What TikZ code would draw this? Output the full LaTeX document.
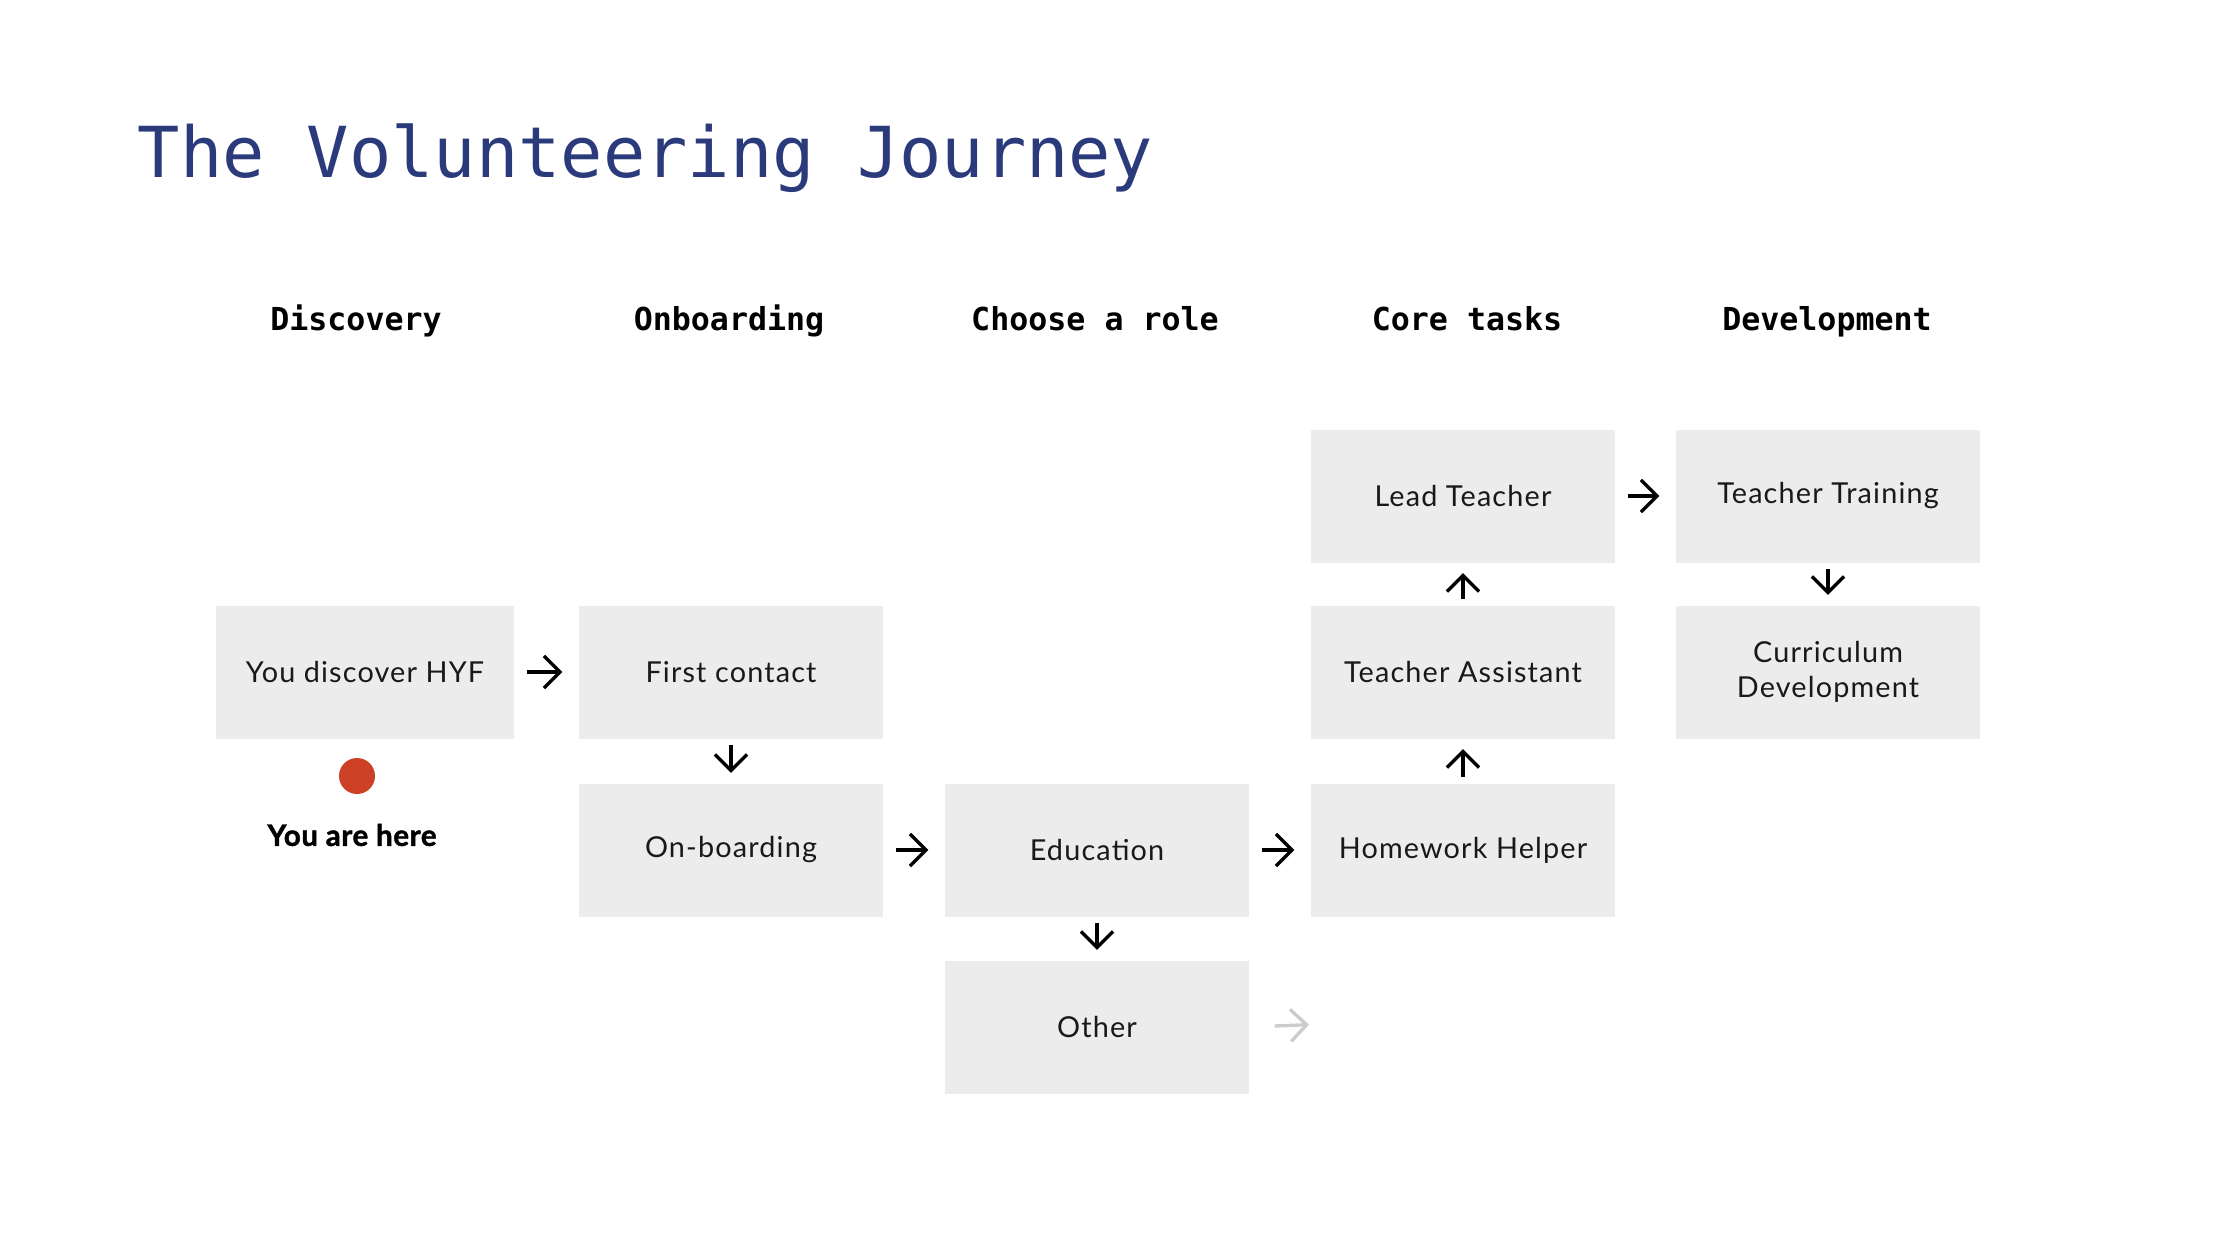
\documentclass[tikz,border=0pt]{standalone}
\usepackage{fontspec}
\setmainfont{Lato}[LetterSpace=4]
\newfontfamily\monofont{DejaVu Sans Mono}
\newfontfamily\herefont{Lato}[BoldFeatures={FakeBold=1.5}, LetterSpace=2]
\usepackage{xcolor}
\usetikzlibrary{positioning,arrows.meta,calc}
\definecolor{boxgray}{HTML}{ECECEC}
\definecolor{titleblue}{HTML}{2B3A7B}
\definecolor{hered}{HTML}{CC4125}
\definecolor{fadegray}{HTML}{CCCCCC}

\begin{document}
\begin{tikzpicture}[
    font=\fontsize{8.2}{9.8}\selectfont,
    stage/.style={fill=boxgray, minimum width=30.4mm, minimum height=13.3mm,
                  align=center, inner sep=0pt, text=black!90},
    head/.style={font=\monofont\bfseries\fontsize{9}{11}\selectfont, anchor=base},
    harr/.style={-{Straight Barb[length=1.6mm, width=3.2mm]}, line width=0.95pt,
                 shorten <=1.2mm, shorten >=1.6mm},
    varr/.style={harr, shorten <=0.6mm, shorten >=1mm},
]
\fill[white] (0,0) rectangle (22.4,-12.5);
\useasboundingbox (0,0) rectangle (22.4,-12.5);
% columns: 3.65, 7.31, 10.97, 14.63, 18.28; rows: -4.96, -6.72, -8.50, -10.27
% ---------------- title and column heads ----------------
\node[anchor=base west, inner sep=0pt, text=titleblue,
      font=\monofont\fontsize{20}{24}\selectfont] (title) at (1.37,-1.78) {The Volunteering Journey};
\node[head] (hdisc) at (3.56,-3.30) {Discovery};
\node[head] (honb) at (7.29,-3.30) {Onboarding};
\node[head] (hrole) at (10.95,-3.30) {Choose a role};
\node[head] (hcore) at (14.67,-3.30) {Core tasks};
\node[head] (hdev) at (18.27,-3.30) {Development};

% ---------------- stages ----------------
\node[stage, minimum width=29.8mm] (disc) at (3.65,-6.72) {You discover HYF};
\node[stage] (first) at (7.31,-6.72) {First contact};
\node[stage] (onb) at (7.31,-8.50) {On-boarding};
\node[stage] (edu) at (10.97,-8.50) {Education};
\node[stage] (other) at (10.97,-10.27) {Other};
\node[stage] (hw) at (14.63,-8.50) {Homework Helper};
\node[stage] (ta) at (14.63,-6.72) {Teacher Assistant};
\node[stage] (lead) at (14.63,-4.96) {Lead Teacher};
\node[stage] (tt) at (18.28,-4.96) {Teacher Training};
\node[stage] (cd) at (18.28,-6.72) {Curriculum\\Development};

% ---------------- you are here ----------------
\node[circle, fill=hered, minimum size=3.6mm, inner sep=0pt] (dot) at (3.57,-7.76) {};
\node[font=\herefont\bfseries\fontsize{8.4}{10}\selectfont] (here) at (3.52,-8.35) {You are here};

% ---------------- arrows ----------------
\draw[harr] (disc.east) -- (first.west);
\draw[varr] (first.south) -- (onb.north);
\draw[harr] (onb.east) -- (edu.west);
\draw[varr] (edu.south) -- (other.north);
\draw[harr] (edu.east) -- (hw.west);
\draw[varr] (hw.north) -- (ta.south);
\draw[varr] (ta.north) -- (lead.south);
\draw[harr] (lead.east) -- (tt.west);
\draw[varr] (tt.south) -- (cd.north);
\coordinate (next) at (13.25,-10.24);
\draw[harr, fadegray, shorten <=2.5mm] (other.east) -- (next);
\end{tikzpicture}
\end{document}
